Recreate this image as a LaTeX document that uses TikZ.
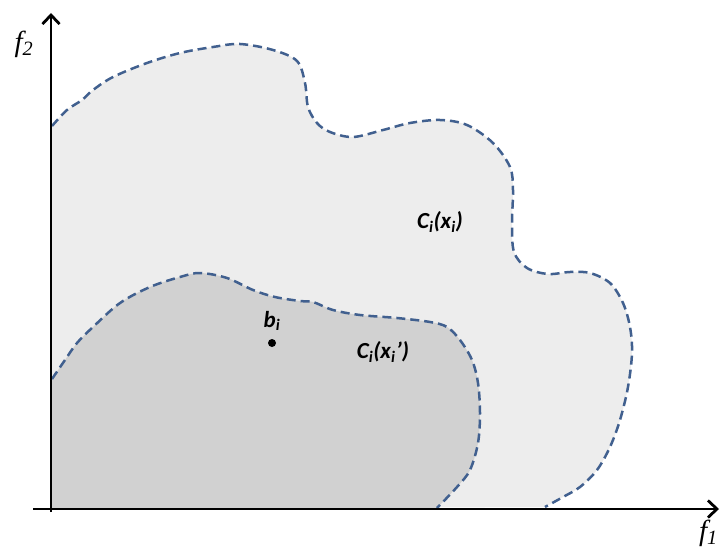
\documentclass[tikz,border=0pt]{standalone}
\usepackage{fontspec}
\setmainfont{Liberation Serif}
\newfontfamily\lblfont{Carlito}
\usetikzlibrary{arrows.meta}
\definecolor{outerfill}{HTML}{EDEDED}
\definecolor{innerfill}{HTML}{D1D1D1}
\definecolor{bordercol}{HTML}{41608F}
\tikzset{
  boundary/.style={draw=bordercol, line width=2.5pt, dash pattern=on 9pt off 5pt},
  axisline/.style={line width=2.8pt, -{Straight Barb[length=9pt,width=17pt,line width=2.8pt]}},
  setlabel/.style={font=\lblfont\bfseries\itshape\fontsize{23}{26}\selectfont, inner sep=0pt},
  axlabel/.style={font=\itshape\fontsize{29}{32}\selectfont, inner sep=0pt}
}
\begin{document}
\begin{tikzpicture}[x=1pt,y=-1pt]
\useasboundingbox (0,0) rectangle (720,551);
% outer region
\def\outercurve{(52,126) (67,110) (82,100) (93,90) (113,77) (147,63) (180,53) (213,47) (240,44) (273,50) (297,61) (305,83) (308,107) (317,123) (330,132) (353,137) (383,130) (410,123) (440,120) (467,125) (493,143) (510,167) (513,190) (512,223) (514,252) (527,268) (548,274) (570,272) (590,273) (610,283) (623,303) (630,327) (632,353) (628,387) (620,420) (610,447) (597,470) (580,487) (563,497) (545,507)}
\fill[outerfill] plot[smooth, tension=0.55] coordinates {\outercurve} -- (51,509) -- cycle;
\draw[boundary] plot[smooth, tension=0.55] coordinates {\outercurve};
% inner region
\def\innercurve{(52,379) (65,360) (77,343) (93,327) (120,303) (150,287) (180,277) (200,273) (227,278) (253,290) (275,297) (300,301) (313,302) (333,310) (360,315) (397,318) (430,322) (447,327) (460,340) (472,360) (478,383) (480,413) (478,443) (470,470) (457,487) (437,508)}
\fill[innerfill] plot[smooth, tension=0.55] coordinates {\innercurve} -- (51,509) -- cycle;
\draw[boundary] plot[smooth, tension=0.55] coordinates {\innercurve};
% axes
\coordinate (o) at (51,512);
\coordinate (ytip) at (51,13);
\coordinate (xs) at (33,509);
\coordinate (xtip) at (719,509);
\draw[axisline] (o) -- (ytip);
\draw[axisline] (xs) -- (xtip);
\node[axlabel] (f2) at (24,44) {f\textsubscript{2}};
\node[axlabel, anchor=east] (f1) at (718,533) {f\textsubscript{1}};
% labels
\node[setlabel] (cx) at (440,222) {C\textsubscript{i}(x\textsubscript{i})};
\node[setlabel] (cxp) at (383,352) {C\textsubscript{i}(x\textsubscript{i}\kern0.5pt’)};
\fill (272,343) circle (4pt) node[coordinate] (b) {};
\node[setlabel] (bl) at (272,321) {b\textsubscript{i}};
\end{tikzpicture}
\end{document}
